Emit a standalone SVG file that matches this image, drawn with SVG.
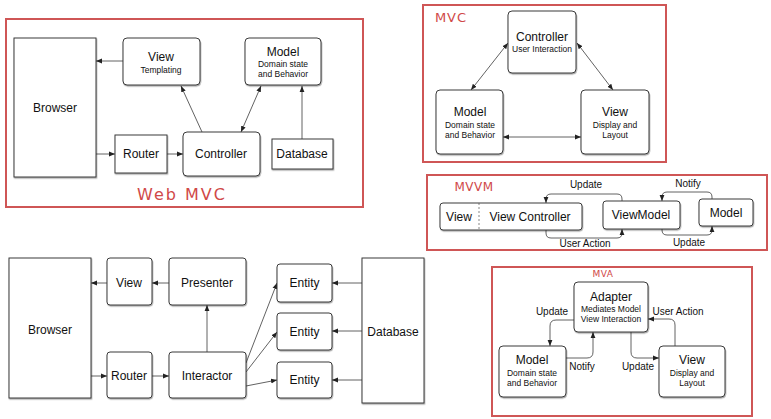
<svg xmlns="http://www.w3.org/2000/svg" width="771" height="419" viewBox="0 0 771 419">
<defs>
<style>
.frame{fill:none;stroke:#cf5656;stroke-width:2}
.box{fill:#fff;stroke:#3a3a3a;stroke-width:1;filter:url(#sh)}
.ln{fill:none;stroke:#3a3a3a;stroke-width:0.8}
.t{font-family:"Liberation Sans",Arial,sans-serif;font-size:12px;fill:#111;text-anchor:middle}
.s{font-family:"Liberation Sans",Arial,sans-serif;font-size:8.5px;fill:#111;text-anchor:middle}
.l{font-family:"Liberation Sans",Arial,sans-serif;font-size:10px;fill:#111;text-anchor:middle}
.hw{font-family:"DejaVu Sans",sans-serif;fill:#d04848;text-anchor:middle}
</style>
<filter id="sh" x="-10%" y="-10%" width="130%" height="130%">
<feDropShadow dx="0.6" dy="1.2" stdDeviation="0.6" flood-color="#000" flood-opacity="0.35"/>
</filter>
<marker id="a" markerWidth="6" markerHeight="6" refX="6" refY="3" orient="auto-start-reverse" markerUnits="userSpaceOnUse">
<path d="M0,0.6 L6,3 L0,5.4 z" fill="#222"/>
</marker>
</defs>

<!-- Frames -->
<g id="frames">
<rect class="frame" x="6" y="19" width="357" height="188"/>
<rect class="frame" x="423" y="5" width="243" height="157"/>
<rect class="frame" x="427" y="175" width="340" height="75"/>
<rect class="frame" x="492" y="267" width="260" height="149"/>
</g>

<!-- Handwritten titles -->
<g id="titles">
<text class="hw" x="182" y="200" font-size="16" letter-spacing="2">Web MVC</text>
<text class="hw" x="451" y="22" font-size="13" letter-spacing="1">MVC</text>
<text class="hw" x="474" y="191" font-size="12" letter-spacing="0.5">MVVM</text>
<text class="hw" x="603" y="277" font-size="9" letter-spacing="0.5">MVA</text>
</g>

<!-- Connectors -->
<g id="connectors">
<!-- Web MVC -->
<line class="ln" x1="123" y1="61" x2="96" y2="61" marker-end="url(#a)"/>
<line class="ln" x1="96" y1="154" x2="115" y2="154" marker-end="url(#a)"/>
<line class="ln" x1="167" y1="154" x2="183" y2="154" marker-end="url(#a)"/>
<line class="ln" x1="202" y1="132" x2="181" y2="86" marker-end="url(#a)"/>
<line class="ln" x1="241" y1="132" x2="261" y2="86" marker-start="url(#a)" marker-end="url(#a)"/>
<line class="ln" x1="302" y1="139" x2="302" y2="86" marker-end="url(#a)"/>
<!-- MVC -->
<line class="ln" x1="508" y1="43" x2="471" y2="90" marker-start="url(#a)" marker-end="url(#a)"/>
<line class="ln" x1="577" y1="43" x2="613" y2="90" marker-start="url(#a)" marker-end="url(#a)"/>
<line class="ln" x1="503" y1="137" x2="581" y2="137" marker-start="url(#a)" marker-end="url(#a)"/>
<!-- MVVM -->
<path class="ln" d="M622,201 V199 Q622,194 617,194 H551 Q546,194 546,199 V203" marker-end="url(#a)"/>
<path class="ln" d="M546,230 V233 Q546,238 551,238 H617 Q622,238 622,233 V229" marker-end="url(#a)"/>
<path class="ln" d="M712,199 V197 Q712,192 707,192 H667 Q662,192 662,197 V201" marker-end="url(#a)"/>
<path class="ln" d="M662,229 V230 Q662,235 667,235 H707 Q712,235 712,230 V226" marker-end="url(#a)"/>
<!-- MVA -->
<path class="ln" d="M574,320 H556 Q550,320 550,326 V346" marker-end="url(#a)"/>
<path class="ln" d="M566,358 H587 Q593,358 593,352 V332" marker-end="url(#a)"/>
<path class="ln" d="M631,332 V352 Q631,358 637,358 H659" marker-end="url(#a)"/>
<path class="ln" d="M675,346 V325 Q675,319 669,319 H648" marker-end="url(#a)"/>
<!-- Clean -->
<line class="ln" x1="107" y1="283" x2="91" y2="283" marker-end="url(#a)"/>
<line class="ln" x1="169" y1="283" x2="152" y2="283" marker-end="url(#a)"/>
<line class="ln" x1="91" y1="376" x2="107" y2="376" marker-end="url(#a)"/>
<line class="ln" x1="152" y1="376" x2="169" y2="376" marker-end="url(#a)"/>
<line class="ln" x1="207" y1="352" x2="207" y2="305" marker-end="url(#a)" stroke-width="1.1"/>
<line class="ln" x1="246" y1="363" x2="277" y2="283" marker-end="url(#a)"/>
<line class="ln" x1="246" y1="372" x2="277" y2="332" marker-end="url(#a)"/>
<line class="ln" x1="246" y1="386" x2="277" y2="380" marker-end="url(#a)"/>
<line class="ln" x1="362" y1="283" x2="332" y2="283" marker-end="url(#a)"/>
<line class="ln" x1="362" y1="331" x2="332" y2="331" marker-end="url(#a)"/>
<line class="ln" x1="362" y1="380" x2="332" y2="380" marker-end="url(#a)"/>
</g>

<!-- Connector labels -->
<g id="labels">
<text class="l" x="586" y="188">Update</text>
<text class="l" x="585" y="247">User Action</text>
<text class="l" x="688" y="187">Notify</text>
<text class="l" x="689" y="246">Update</text>
<text class="l" x="552" y="315">Update</text>
<text class="l" x="678" y="315">User Action</text>
<text class="l" x="582" y="370">Notify</text>
<text class="l" x="638" y="370">Update</text>
</g>

<!-- Web MVC nodes -->
<g id="wm-browser"><rect class="box" x="14" y="38" width="82" height="139"/><text class="t" x="55" y="112">Browser</text></g>
<g id="wm-view"><rect class="box" x="123" y="38" width="77" height="47" rx="4"/><text class="t" x="161" y="61">View</text><text class="s" x="161" y="73">Templating</text></g>
<g id="wm-model"><rect class="box" x="245" y="38" width="76" height="47" rx="4"/><text class="t" x="283" y="56">Model</text><text class="s" x="283" y="67">Domain state</text><text class="s" x="283" y="77">and Behavior</text></g>
<g id="wm-router"><rect class="box" x="115" y="135" width="52" height="38"/><text class="t" x="141" y="158">Router</text></g>
<g id="wm-controller"><rect class="box" x="183" y="132" width="77" height="44" rx="4"/><text class="t" x="221" y="158">Controller</text></g>
<g id="wm-database"><rect class="box" x="272" y="139" width="61" height="30"/><text class="t" x="302" y="158">Database</text></g>

<!-- MVC nodes -->
<g id="mvc-controller"><rect class="box" x="508" y="11" width="68" height="62" rx="4"/><text class="t" x="542" y="41">Controller</text><text class="s" x="542" y="52">User Interaction</text></g>
<g id="mvc-model"><rect class="box" x="436" y="90" width="67" height="64" rx="4"/><text class="t" x="470" y="116">Model</text><text class="s" x="470" y="128">Domain state</text><text class="s" x="470" y="138">and Behavior</text></g>
<g id="mvc-view"><rect class="box" x="581" y="90" width="68" height="64" rx="4"/><text class="t" x="615" y="116">View</text><text class="s" x="615" y="128">Display and</text><text class="s" x="615" y="138">Layout</text></g>

<!-- MVVM nodes -->
<g id="mvvm-viewcontroller"><rect class="box" x="440" y="203" width="142" height="27" rx="3"/><line x1="479" y1="203" x2="479" y2="230" stroke="#555" stroke-width="0.7" stroke-dasharray="2,2"/><text class="t" x="459" y="221">View</text><text class="t" x="530" y="221">View Controller</text></g>
<g id="mvvm-viewmodel"><rect class="box" x="603" y="201" width="77" height="28" rx="3"/><text class="t" x="641" y="219">ViewModel</text></g>
<g id="mvvm-model"><rect class="box" x="699" y="199" width="54" height="27" rx="3"/><text class="t" x="726" y="217">Model</text></g>

<!-- MVA nodes -->
<g id="mva-adapter"><rect class="box" x="574" y="282" width="74" height="50" rx="4"/><text class="t" x="611" y="301">Adapter</text><text class="s" x="611" y="312">Mediates Model</text><text class="s" x="611" y="322">View Interaction</text></g>
<g id="mva-model"><rect class="box" x="499" y="346" width="67" height="51" rx="4"/><text class="t" x="532" y="364">Model</text><text class="s" x="532" y="376">Domain state</text><text class="s" x="532" y="386">and Behavior</text></g>
<g id="mva-view"><rect class="box" x="659" y="346" width="66" height="51" rx="4"/><text class="t" x="692" y="364">View</text><text class="s" x="692" y="376">Display and</text><text class="s" x="692" y="386">Layout</text></g>

<!-- Clean architecture nodes -->
<g id="ca-browser"><rect class="box" x="9" y="258" width="82" height="140"/><text class="t" x="50" y="334">Browser</text></g>
<g id="ca-view"><rect class="box" x="107" y="258" width="45" height="47" rx="3"/><text class="t" x="129" y="287">View</text></g>
<g id="ca-presenter"><rect class="box" x="169" y="258" width="77" height="47" rx="3"/><text class="t" x="207" y="287">Presenter</text></g>
<g id="ca-router"><rect class="box" x="107" y="352" width="45" height="46" rx="3"/><text class="t" x="129" y="380">Router</text></g>
<g id="ca-interactor"><rect class="box" x="169" y="352" width="77" height="46" rx="3"/><text class="t" x="207" y="380">Interactor</text></g>
<g id="ca-entity1"><rect class="box" x="277" y="264" width="55" height="38" rx="3"/><text class="t" x="304.5" y="287">Entity</text></g>
<g id="ca-entity2"><rect class="box" x="277" y="313" width="55" height="37" rx="3"/><text class="t" x="304.5" y="336">Entity</text></g>
<g id="ca-entity3"><rect class="box" x="277" y="362" width="55" height="36" rx="3"/><text class="t" x="304.5" y="384">Entity</text></g>
<g id="ca-database"><rect class="box" x="362" y="258" width="62" height="145"/><text class="t" x="393" y="336">Database</text></g>
</svg>
